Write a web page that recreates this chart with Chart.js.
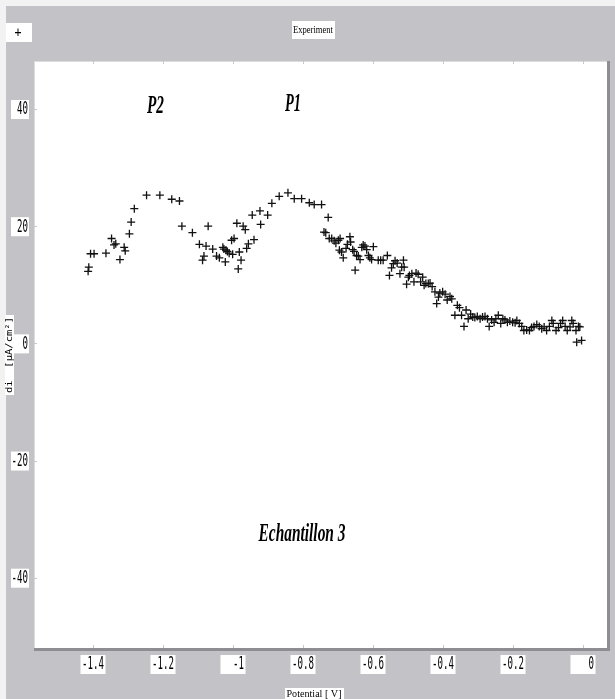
<!DOCTYPE html>
<html>
<head>
<meta charset="utf-8">
<script src="https://cdn.jsdelivr.net/npm/chart.js@4.4.1/dist/chart.umd.min.js"></script>
<style>
  html, body { margin: 0; padding: 0; background: #c3c2c6; }
  #wrap { width: 615px; height: 699px; position: relative; }
</style>
</head>
<body>
<div id="wrap"><canvas id="canvas"></canvas></div>
<script>
// potential (V) and current density di (µA/cm²) of the sweep
const potential = [
  -1.414, -1.412, -1.407, -1.397, -1.363, -1.347, -1.340, -1.335, -1.323, -1.311,
  -1.308, -1.296, -1.291, -1.282, -1.247, -1.209, -1.175, -1.153, -1.146, -1.116,
  -1.096, -1.087, -1.083, -1.077, -1.071, -1.058, -1.047, -1.039, -1.029, -1.026,
  -1.022, -1.020, -1.016, -1.011, -1.004, -1.001, -0.997, -0.989, -0.985, -0.982,
  -0.977, -0.971, -0.965, -0.961, -0.956, -0.945, -0.940, -0.923, -0.921, -0.901,
  -0.889, -0.868, -0.843, -0.825, -0.804, -0.782, -0.768, -0.747, -0.740, -0.735,
  -0.728, -0.725, -0.718, -0.711, -0.706, -0.699, -0.696, -0.694, -0.690, -0.685,
  -0.677, -0.673, -0.666, -0.664, -0.658, -0.654, -0.651, -0.647, -0.642, -0.637,
  -0.632, -0.628, -0.623, -0.618, -0.613, -0.609, -0.604, -0.599, -0.585, -0.578,
  -0.571, -0.559, -0.553, -0.547, -0.542, -0.537, -0.531, -0.523, -0.518, -0.513,
  -0.511, -0.504, -0.499, -0.496, -0.489, -0.483, -0.477, -0.471, -0.464, -0.458,
  -0.454, -0.449, -0.442, -0.437, -0.431, -0.423, -0.418, -0.413, -0.409, -0.401,
  -0.394, -0.388, -0.380, -0.375, -0.366, -0.359, -0.353, -0.347, -0.340, -0.334,
  -0.328, -0.321, -0.315, -0.309, -0.302, -0.294, -0.287, -0.280, -0.273, -0.268,
  -0.261, -0.254, -0.249, -0.242, -0.235, -0.229, -0.223, -0.216, -0.209, -0.201,
  -0.194, -0.189, -0.182, -0.175, -0.169, -0.161, -0.153, -0.147, -0.140, -0.132,
  -0.125, -0.118, -0.111, -0.104, -0.096, -0.089, -0.085, -0.077, -0.070, -0.064,
  -0.058, -0.051, -0.045, -0.037, -0.032, -0.028, -0.020, -0.018, -0.013, -0.009,
  -0.004
];
const current = [
  12.3, 13.0, 15.3, 15.3, 15.4, 17.9, 16.8, 17.0, 14.3, 16.4,
  15.8, 18.7, 20.7, 23.0, 25.3, 25.3, 24.6, 24.3, 20.0, 18.9,
  16.9, 14.2, 14.9, 16.6, 20.0, 16.1, 14.9, 14.6, 16.4, 16.1,
  13.9, 15.9, 15.7, 15.4, 17.6, 15.2, 17.9, 20.5, 12.7, 15.6,
  14.2, 20.0, 19.4, 16.2, 17.0, 21.9, 17.7, 22.6, 20.3, 21.9,
  23.9, 25.1, 25.7, 24.7, 24.7, 24.0, 23.7, 23.7, 19.0, 18.9,
  21.5, 17.9, 17.9, 17.5, 17.1, 17.6, 15.9, 17.9, 15.6, 14.6,
  16.2, 16.9, 18.2, 17.3, 16.0, 15.7, 12.5, 15.0, 14.9, 14.3,
  16.4, 16.8, 16.6, 16.0, 15.0, 14.6, 14.3, 16.5, 14.2, 14.2,
  14.2, 15.0, 11.6, 12.9, 13.6, 14.1, 13.7, 11.9, 13.0, 14.2,
  13.0, 10.1, 11.3, 11.6, 11.9, 10.5, 12.0, 11.8, 10.5, 11.3,
  9.9, 10.2, 10.2, 10.3, 9.7, 8.8, 6.8, 7.9, 8.6, 8.8,
  8.4, 7.4, 8.0, 7.6, 4.8, 6.5, 6.1, 4.8, 2.9, 5.7,
  4.2, 5.0, 4.5, 4.4, 4.6, 4.2, 4.5, 4.6, 4.2, 2.9,
  4.0, 3.6, 4.2, 4.8, 3.4, 4.2, 4.0, 3.6, 3.8, 3.6,
  3.5, 3.9, 3.4, 2.9, 2.2, 2.3, 2.2, 2.7, 2.9, 3.2,
  2.9, 2.5, 2.8, 2.2, 2.9, 3.9, 3.4, 2.2, 2.7, 3.4,
  3.9, 2.9, 2.2, 2.8, 3.9, 3.4, 2.2, 0.2, 2.9, 2.8,
  0.5
];
const xTicks = [-1.4, -1.2, -1, -0.8, -0.6, -0.4, -0.2, 0];
const yTicks = [40, 20, 0, -20, -40];

const GRAY = "#c3c2c6";

// draw text squeezed horizontally to a given width (old bitmap-font look)
function squeezed(ctx, text, x, y, font, width, align) {
  ctx.save();
  ctx.font = font;
  const w = ctx.measureText(text).width;
  const sx = width / w;
  let left = x;
  if (align === "center") left = x - width / 2;
  if (align === "right") left = x - width;
  ctx.translate(left, y);
  ctx.scale(sx, 1);
  ctx.textAlign = "left";
  ctx.textBaseline = "middle";
  ctx.fillText(text, 0, 0);
  ctx.restore();
}

function whiteBox(ctx, x, y, w, h) {
  ctx.fillStyle = "#ffffff";
  ctx.fillRect(x, y, w, h);
}

const framePlugin = {
  id: "frame",
  beforeDraw(chart) {
    const { ctx, chartArea: a } = chart;
    ctx.save();
    ctx.fillStyle = GRAY;
    ctx.fillRect(0, 0, chart.width, chart.height);
    ctx.fillStyle = "#f2f2f2";
    ctx.fillRect(0, 0, chart.width, 6);
    ctx.fillRect(0, 0, 6, chart.height);
    // plot panel
    ctx.fillStyle = "#ffffff";
    ctx.fillRect(a.left, a.top, a.right - a.left, a.bottom - a.top);
    ctx.fillStyle = "#8e8d91";
    ctx.fillRect(a.left, a.bottom, a.right - a.left + 3, 3);
    ctx.fillRect(a.right, a.top, 3, a.bottom - a.top + 3);
    ctx.fillStyle = "#dcdcdc";
    ctx.fillRect(a.left, a.top, a.right - a.left, 1);
    ctx.fillRect(a.left, a.top, 1, a.bottom - a.top);
    ctx.restore();
  },
  afterDraw(chart) {
    const { ctx, chartArea: a } = chart;
    const xs = chart.scales.x, ys = chart.scales.y;
    ctx.save();
    // tick marks
    ctx.strokeStyle = "#c8c8c8";
    ctx.lineWidth = 1;
    ctx.beginPath();
    xTicks.forEach(v => {
      const px = Math.round(xs.getPixelForValue(v)) + 0.5;
      ctx.moveTo(px, a.top); ctx.lineTo(px, a.top + 3);
      ctx.moveTo(px, a.bottom); ctx.lineTo(px, a.bottom - 3);
    });
    yTicks.forEach(v => {
      const py = Math.round(ys.getPixelForValue(v)) + 0.5;
      ctx.moveTo(a.left, py); ctx.lineTo(a.left + 3, py);
    });
    ctx.stroke();

    const tickFont = "17px 'DejaVu Sans Mono'";
    // x tick labels in white boxes
    xTicks.forEach(v => {
      const px = xs.getPixelForValue(v);
      whiteBox(ctx, px - 12.5, 655, 25, 19);
      ctx.fillStyle = "#000000";
      squeezed(ctx, String(v), px + 11, 665, tickFont, String(v).length * 5.5, "right");
    });
    // y tick labels
    yTicks.forEach(v => {
      const py = ys.getPixelForValue(v);
      whiteBox(ctx, 11, py - 9, 18, 19);
      ctx.fillStyle = "#000000";
      squeezed(ctx, String(v), 28, py + 1, tickFont, String(v).length * 5.5, "right");
    });

    // header boxes
    whiteBox(ctx, 6, 23, 26, 19);
    ctx.fillStyle = "#000000";
    squeezed(ctx, "+", 18, 33, "14px 'DejaVu Sans Mono'", 7, "center");
    whiteBox(ctx, 292, 21, 43, 18);
    ctx.fillStyle = "#000000";
    squeezed(ctx, "Experiment", 313, 30, "11px 'Liberation Serif'", 40, "center");

    // axis titles
    whiteBox(ctx, 285, 688, 59, 12);
    ctx.fillStyle = "#000000";
    squeezed(ctx, "Potential [ V]", 314, 694, "10px 'Liberation Serif'", 55, "center");

    ctx.save();
    ctx.translate(9, 355);
    ctx.rotate(-Math.PI / 2);
    whiteBox(ctx, -40, -4, 80, 9);
    ctx.fillStyle = "#000000";
    squeezed(ctx, "di  [\u00b5A/cm\u00b2]", 0, 1, "9px 'DejaVu Sans Mono'", 76, "center");
    ctx.restore();

    // peak annotations and sample name
    const serif = "bold italic 25px 'Liberation Serif'";
    squeezed(ctx, "P2", 155.5, 107, serif, 17, "center");
    squeezed(ctx, "P1", 293, 105, serif, 16, "center");
    squeezed(ctx, "Echantillon 3", 302, 535, serif, 87, "center");
    ctx.restore();
  }
};

const ctx = document.getElementById("canvas");

const chart = new Chart(ctx, {
  type: "scatter",
  data: {
    datasets: [
      {
        label: "Experiment",
        data: potential.map((p, i) => ({ x: p, y: current[i] })),
        pointStyle: "cross",
        pointRadius: 4,
        pointBorderWidth: 1.3,
        borderColor: "#111111",
        backgroundColor: "#111111",
      },
    ],
  },
  options: {
    responsive: true,
    maintainAspectRatio: false,
    animation: false,
    events: [],
    layout: {
      autoPadding: false,
      padding: { left: 34, top: 61, right: 8, bottom: 51 },
    },
    plugins: {
      legend: { display: false },
      tooltip: { enabled: false },
    },
    scales: {
      x: { type: "linear", display: false, min: -1.5686, max: 0.0686 },
      y: { type: "linear", display: false, min: -52, max: 48.2 },
    },
  },
  plugins: [framePlugin],
});
</script>
</body>
</html>
